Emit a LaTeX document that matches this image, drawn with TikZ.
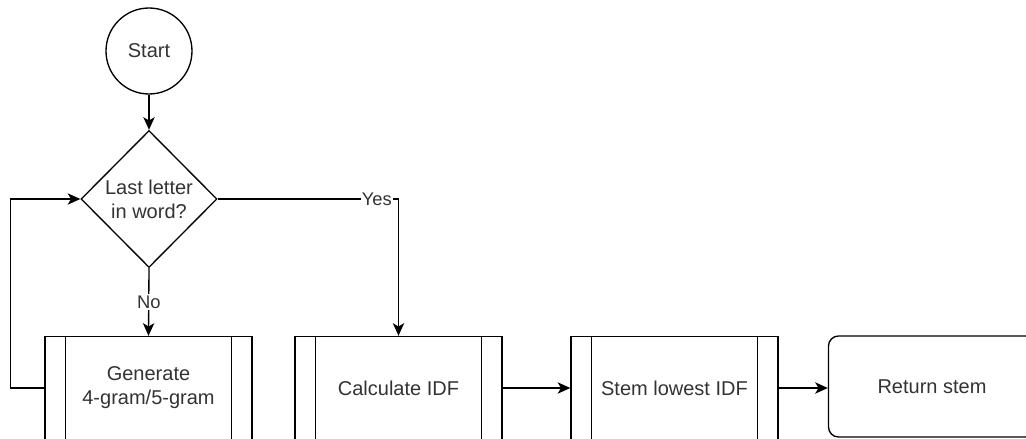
\documentclass[tikz,border=0pt]{standalone}
\usepackage{fontspec}
\setmainfont{Liberation Sans}
\usetikzlibrary{shapes.geometric,arrows.meta}

\begin{document}
\begin{tikzpicture}[x=0.75pt,y=-0.75pt,
  every node/.style={text=black!80},
  stroke/.style={draw=black, line width=1pt},
  flow/.style={stroke, -{Stealth[length=9.5pt,width=8.5pt,inset=2.5pt]}},
  shapetext/.style={font=\fontsize{15}{18}\selectfont, align=center},
  edgelabel/.style={font=\fontsize{13.75}{16}\selectfont, fill=white, inner sep=1pt},
  procbox/.style={shapetext, stroke, minimum width=155.25pt, minimum height=77.25pt, inner sep=0pt,
    path picture={
      \draw[line width=1pt] ([xshift=15.5pt]path picture bounding box.north west) -- ([xshift=15.5pt]path picture bounding box.south west);
      \draw[line width=1pt] ([xshift=-15.5pt]path picture bounding box.north east) -- ([xshift=-15.5pt]path picture bounding box.south east);
    }},
  endbox/.style={shapetext, stroke, rounded corners=7.5pt, minimum width=155.25pt, minimum height=75.75pt, inner sep=0pt},
]
\clip (0,0) rectangle (1026,439);
\fill[white] (0,0) rectangle (1026,439);

% shapes
\node[shapetext, circle, stroke, minimum size=64.5pt, inner sep=0pt] (start) at (149,51) {Start};
\node[shapetext, diamond, stroke, minimum width=102pt, minimum height=102.75pt, inner sep=0pt] (dec) at (149,199) {Last letter\\in word?};
\node[procbox] (gen) at (148.5,388) {Generate\\4-gram/5-gram};
\node[procbox] (idf) at (398.5,388) {Calculate IDF};
\node[procbox] (stem) at (674.5,388) {Stem lowest IDF};
\node[endbox] (ret) at (932,386.5) {Return stem};

% connectors
\draw[flow] (start) -- (dec);
\draw[flow] (dec.south) -- node[edgelabel] {No} (gen.north);
\draw[flow] (dec.east) -| node[edgelabel, pos=0.44] {Yes} (idf.north);
\draw[flow] (gen.west) -- ++(-34,0) |- (dec.west);
\draw[flow] (idf) -- (stem);
\draw[flow] (stem.east) -- (stem.east -| ret.west);
\end{tikzpicture}
\end{document}
